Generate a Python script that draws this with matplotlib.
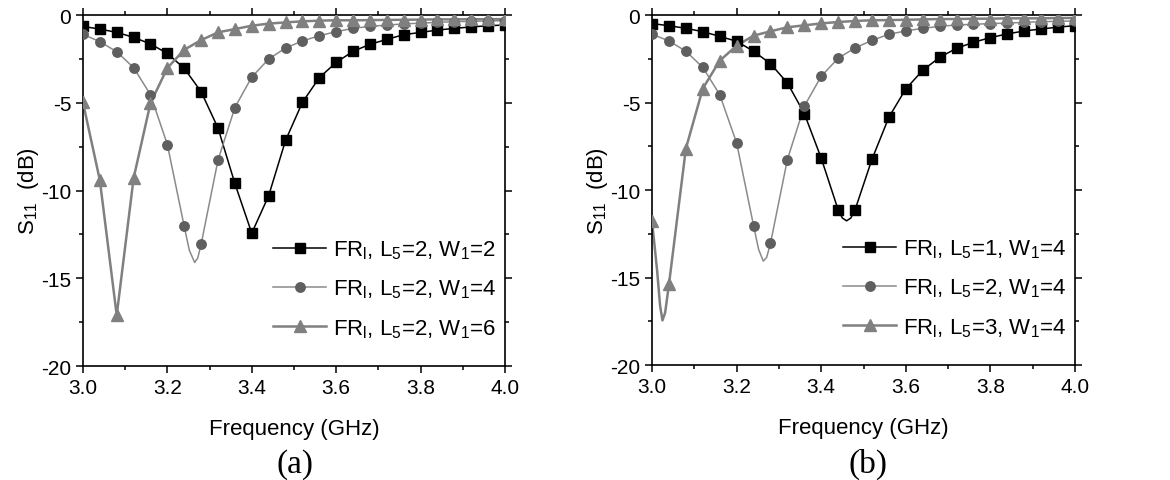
import numpy as np
import matplotlib
matplotlib.use("Agg")
import matplotlib.pyplot as plt
from matplotlib.lines import Line2D
from matplotlib.ticker import MultipleLocator, FormatStrFormatter

plt.rcParams['font.family'] = ['Liberation Sans', 'DejaVu Sans']
plt.rcParams['mathtext.fontset'] = 'custom'
plt.rcParams['mathtext.rm'] = 'Liberation Sans'
plt.rcParams['mathtext.it'] = 'Liberation Sans'

# marker frequencies (GHz), every 0.04
freq = np.round(np.arange(26) * 0.04 + 3.0, 2)

# panel (a): L5=2, W1 = 2 / 4 / 6
a_w2 = [-0.65, -0.80, -0.99, -1.27, -1.65, -2.19, -3.04, -4.37, -6.44, -9.60,
        -12.43, -10.30, -7.15, -4.98, -3.57, -2.70, -2.07, -1.67, -1.39, -1.12,
        -0.99, -0.86, -0.76, -0.68, -0.61, -0.57]
a_w4 = [-1.10, -1.52, -2.09, -3.00, -4.54, -7.38, -12.05, -13.06, -8.27, -5.27,
        -3.54, -2.51, -1.88, -1.48, -1.18, -0.95, -0.76, -0.65, -0.57, -0.51,
        -0.46, -0.42, -0.38, -0.36, -0.34, -0.32]
a_w6 = [-4.98, -9.41, -17.11, -9.30, -5.02, -3.02, -1.98, -1.43, -0.99, -0.80,
        -0.61, -0.49, -0.42, -0.36, -0.32, -0.30, -0.30, -0.29, -0.28, -0.27,
        -0.26, -0.25, -0.25, -0.24, -0.24, -0.23]

# panel (b): W1=4, L5 = 1 / 2 / 3
b_l1 = [-0.49, -0.61, -0.76, -0.95, -1.22, -1.50, -2.07, -2.78, -3.88, -5.63,
        -8.18, -11.13, -11.13, -8.24, -5.84, -4.22, -3.16, -2.42, -1.90, -1.56,
        -1.29, -1.08, -0.91, -0.80, -0.69, -0.61]
b_l2 = [-1.10, -1.48, -2.07, -2.99, -4.55, -7.31, -12.03, -13.05, -8.26, -5.21,
        -3.50, -2.47, -1.88, -1.45, -1.10, -0.91, -0.76, -0.65, -0.57, -0.53,
        -0.49, -0.46, -0.42, -0.38, -0.36, -0.34]
b_l3 = [-11.78, -15.39, -7.63, -4.20, -2.61, -1.75, -1.18, -0.93, -0.70, -0.59,
        -0.48, -0.40, -0.34, -0.30, -0.29, -0.27, -0.25, -0.23, -0.23, -0.21,
        -0.21, -0.19, -0.19, -0.19, -0.17, -0.17]

# extra curve points (between markers)
a_w4_dip_f = [3.252, 3.2646, 3.272]
a_w4_dip_s = [-13.40, -14.10, -13.85]
b_l1_dip_f = [3.45, 3.46, 3.47]
b_l1_dip_s = [-11.60, -11.76, -11.60]
b_l2_dip_f = [3.252, 3.263, 3.271]
b_l2_dip_s = [-13.40, -14.06, -13.85]
b_l3_dip_f = [3.012, 3.019, 3.0246, 3.031]
b_l3_dip_s = [-14.60, -16.60, -17.45, -17.00]

labels_a = [r'FR$_\mathrm{l}$, L$_5$=2, W$_1$=2',
            r'FR$_\mathrm{l}$, L$_5$=2, W$_1$=4',
            r'FR$_\mathrm{l}$, L$_5$=2, W$_1$=6']
labels_b = [r'FR$_\mathrm{l}$, L$_5$=1, W$_1$=4',
            r'FR$_\mathrm{l}$, L$_5$=2, W$_1$=4',
            r'FR$_\mathrm{l}$, L$_5$=3, W$_1$=4']

styles = [dict(marker='s', mc='black', lc='black', lw=1.1, ms=6.8),
          dict(marker='o', mc='#5f5f5f', lc='#8a8a8a', lw=1.1, ms=6.8),
          dict(marker='^', mc='#808080', lc='#808080', lw=1.8, ms=8.3)]


def curve(f, s, df=None, ds=None):
    f = list(f) + (df or [])
    s = list(s) + (ds or [])
    order = np.argsort(f)
    return np.array(f)[order], np.array(s)[order]


def draw(ax, series, labels):
    handles = []
    for (vals, df, ds), st, lab in zip(series, styles, labels):
        cf, cs = curve(freq, vals, df, ds)
        ax.plot(cf, cs, color=st['lc'], lw=st['lw'], zorder=2)
        ax.plot(freq, vals, ls='none', marker=st['marker'], color=st['mc'],
                ms=st['ms'], mec=st['mc'], zorder=3)
        handles.append(Line2D([], [], color=st['lc'], lw=st['lw'], marker=st['marker'],
                              mfc=st['mc'], mec=st['mc'], ms=st['ms']))
    ax.set_xlim(3.0, 4.0)
    ax.set_ylim(-20, 0)
    ax.xaxis.set_major_locator(MultipleLocator(0.2))
    ax.xaxis.set_minor_locator(MultipleLocator(0.1))
    ax.yaxis.set_major_locator(MultipleLocator(5))
    ax.yaxis.set_minor_locator(MultipleLocator(2.5))
    ax.xaxis.set_major_formatter(FormatStrFormatter('%.1f'))
    ax.yaxis.set_major_formatter(FormatStrFormatter('%d'))
    ax.tick_params(which='both', direction='out', top=True, right=True,
                   labelsize=15, width=1.1)
    ax.tick_params(which='major', length=5)
    ax.tick_params(which='minor', length=3)
    for sp in ax.spines.values():
        sp.set_linewidth(1.2)
    ax.set_xlabel('Frequency (GHz)', fontsize=16, labelpad=15)
    ax.set_ylabel(r'S$_{11}$  (dB)', fontsize=16, labelpad=0)
    ax.legend(handles, labels, loc='lower right', frameon=False, fontsize=16,
              numpoints=1, handlelength=2.4, handletextpad=0.3, labelspacing=0.75,
              borderaxespad=0.0, bbox_to_anchor=(1.0, 0.05))


fig = plt.figure(figsize=(11.7, 4.81), dpi=100)
ax1 = fig.add_axes([0.0709, 0.237, 0.3607, 0.7297])
ax2 = fig.add_axes([0.5573, 0.239, 0.3615, 0.7277])

draw(ax1, [(a_w2, None, None), (a_w4, a_w4_dip_f, a_w4_dip_s), (a_w6, None, None)], labels_a)
draw(ax2, [(b_l1, b_l1_dip_f, b_l1_dip_s), (b_l2, b_l2_dip_f, b_l2_dip_s),
           (b_l3, b_l3_dip_f, b_l3_dip_s)], labels_b)

fig.text(0.252, 0.035, '(a)', family='Liberation Serif', fontsize=24, ha='center', va='center')
fig.text(0.742, 0.035, '(b)', family='Liberation Serif', fontsize=24, ha='center', va='center')

fig.savefig('out.png', dpi=100)
